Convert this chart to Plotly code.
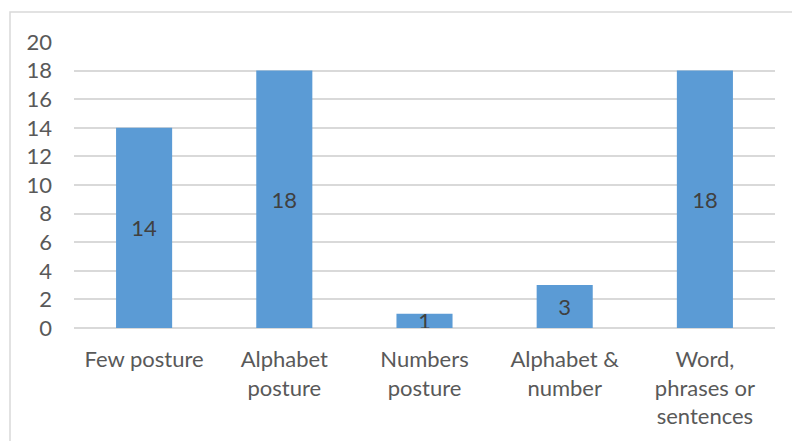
import plotly.graph_objects as go

categories = ["Few posture", "Alphabet<br>posture", "Numbers<br>posture", "Alphabet &amp;<br>number", "Word,<br>phrases or<br>sentences"]
values = [14, 18, 1, 3, 18]
y_ticks = [0, 2, 4, 6, 8, 10, 12, 14, 16, 18, 20]

FONT = "Lato, 'Open Sans', sans-serif"
FS = 22

fig = go.Figure(go.Bar(
    x=categories, y=values,
    marker=dict(color="#5B9BD5", line=dict(width=0)),
    text=[str(v) for v in values],
    textposition="inside", insidetextanchor="middle",
    constraintext="none", textangle=0,
    textfont=dict(family=FONT, size=FS, color="#404040"),
    hoverinfo="skip",
))

fig.update_layout(
    width=792, height=441,
    margin=dict(l=74, r=17, t=42, b=113),
    paper_bgcolor="white", plot_bgcolor="white",
    bargap=0.6,
    showlegend=False,
    uniformtext=dict(minsize=FS, mode="show"),
    font=dict(family=FONT, size=FS, color="#595959"),
    xaxis=dict(showgrid=False, showline=False, ticks="", ticklabelstandoff=16,
               tickfont=dict(family=FONT, size=FS, color="#595959"), fixedrange=True),
    yaxis=dict(range=[0, 20], tickvals=y_ticks, showgrid=True, gridcolor="#D9D9D9", gridwidth=1.5,
               zeroline=True, zerolinecolor="#D9D9D9", zerolinewidth=1.5,
               showline=False, ticks="", ticklabelstandoff=21,
               tickfont=dict(family=FONT, size=FS, color="#595959"), fixedrange=True),
    shapes=[dict(type="rect", xref="paper", yref="paper",
                 x0=(10 - 74) / 701, x1=(830 - 74) / 701,
                 y0=(328 - 480) / 286, y1=(328 - 12) / 286,
                 line=dict(color="#D9D9D9", width=1.5), layer="below")],
)

fig.write_html("out.html")
